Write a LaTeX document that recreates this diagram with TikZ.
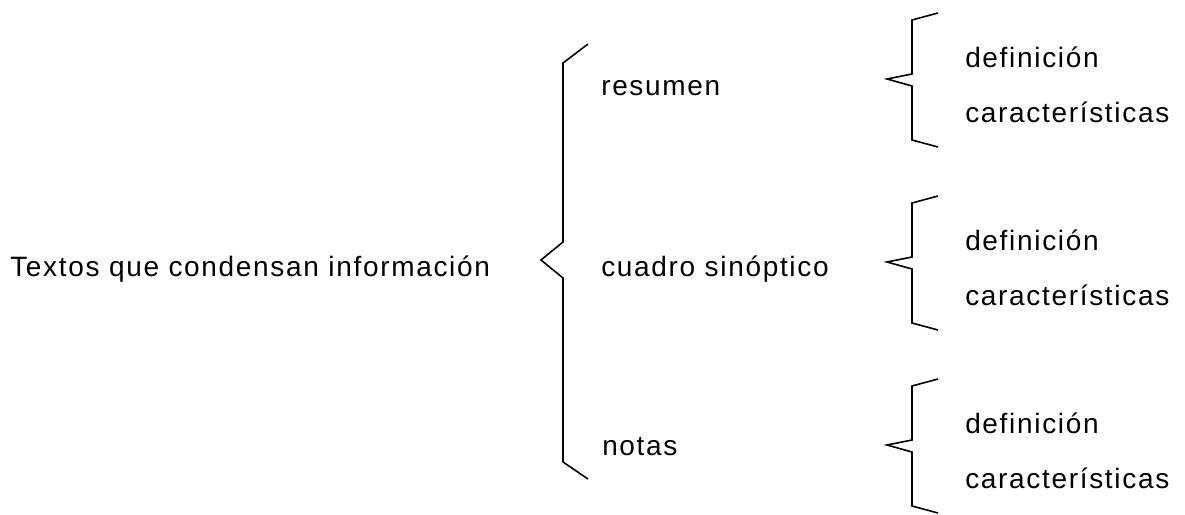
\documentclass[tikz,border=0pt]{standalone}
\usepackage{fontspec}
\setmainfont{Liberation Sans}[LetterSpace=6]

\tikzset{
	lbl/.style = {inner sep = 0pt, anchor = base west, font = \fontsize{21pt}{25pt}\selectfont},
	brace/.style = {line width = 1.2pt, line join = miter}
}

\begin{document}
\begin{tikzpicture}[x = 0.75pt, y = -0.75pt]
	\useasboundingbox (0, 0) rectangle (1185, 514);

	\node[lbl] (textos) at (10, 276) {Textos que condensan información};

	\node[lbl] (resumen) at (601, 95) {resumen};
	\node[lbl] (cuadro) at (601, 276) {cuadro sinóptico};
	\node[lbl] (notas) at (602, 455) {notas};

	% big brace
	\draw[brace] (588, 44) -- (563, 63) -- (563, 242) -- (541, 260) -- (563, 278) -- (563, 462) -- (588, 479);

	% small braces with their two items
	\foreach \y/\name in {13/res, 196/cua, 379/not} {
		\draw[brace] (938, \y) -- ++ (-26, 7) -- ++ (0, 54) -- ++ (-25, 5) -- ++ (25, 7) -- ++ (0, 54) -- ++ (26, 7);
		\node[lbl] (def-\name) at (965, {\y + 54}) {definición};
		\node[lbl] (car-\name) at (965, {\y + 109}) {características};
	}
\end{tikzpicture}
\end{document}
